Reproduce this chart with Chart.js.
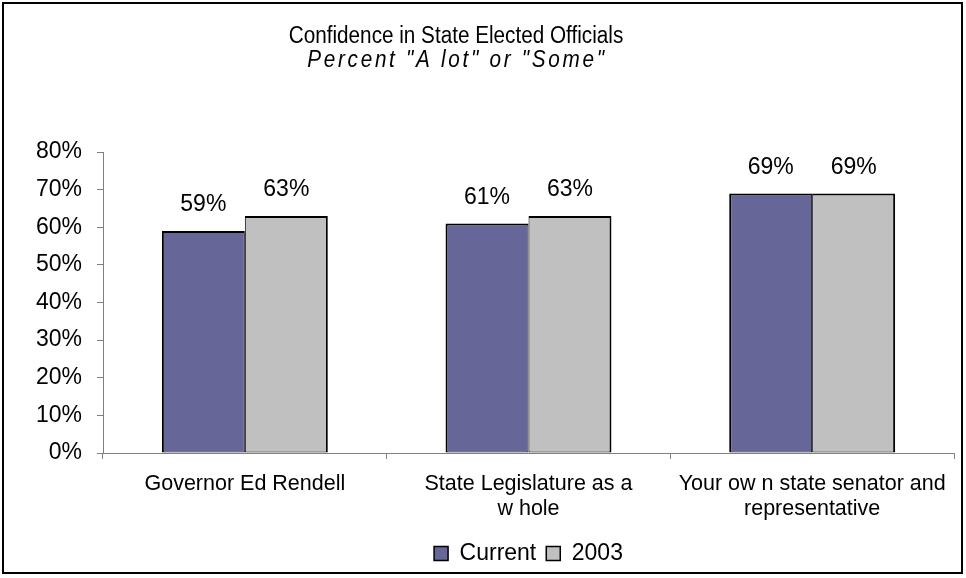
<!DOCTYPE html>
<html>
<head>
<meta charset="utf-8">
<script src="https://cdn.jsdelivr.net/npm/chart.js@4.4.1/dist/chart.umd.min.js"></script>
<style>
    html, body { margin: 0; padding: 0; background: #fff; }
    canvas { display: block; }
</style>
</head>
<body>
<canvas id="barChart" width="966" height="578"></canvas>
<script>
var fontFamily = "'Liberation Sans', Arial, sans-serif";

var titleText = "Confidence in State Elected Officials";
var subtitleText = 'Percent "A lot" or "Some"';
var categories = ["Governor Ed Rendell", ["State Legislature as a", "w hole"], ["Your ow n state senator and", "representative"]];
var seriesNames = ["Current", "2003"];
var currentValues = [59, 61, 69];
var values2003 = [63, 63, 69];
var yTickValues = [0, 10, 20, 30, 40, 50, 60, 70, 80];

var barChart;

// frame + title (title sits left of the canvas centre, like the original)
var frameTitle = {
    id: "frameTitle",
    beforeDraw: function (chart) {
        const ctx = chart.ctx;
        ctx.save();
        ctx.fillStyle = "#fff";
        ctx.fillRect(0, 0, chart.width, chart.height);
        ctx.strokeStyle = "#000";
        ctx.lineWidth = 2;
        ctx.strokeRect(3, 3, 959, 570);
        ctx.fillStyle = "#000";
        ctx.textAlign = "center";
        ctx.textBaseline = "middle";
        // original title font is a condensed face -> squeeze horizontally
        ctx.save();
        ctx.translate(456, 37);
        ctx.scale(0.9, 1);
        ctx.font = "23px " + fontFamily;
        ctx.fillText(titleText, 0, 0);
        ctx.restore();
        ctx.save();
        ctx.translate(457, 61);
        ctx.scale(0.9, 1);
        ctx.font = "italic 23px " + fontFamily;
        ctx.letterSpacing = "3px";
        ctx.fillText(subtitleText, 0, 0);
        ctx.restore();
        ctx.restore();
    },
};

// value labels above bars
var barValueLabels = {
    id: "barValueLabels",
    afterDatasetsDraw: function (chart) {
        const ctx = chart.ctx;
        ctx.save();
        ctx.font = "23px " + fontFamily;
        ctx.fillStyle = "#000";
        ctx.textAlign = "center";
        ctx.textBaseline = "middle";
        chart.data.datasets.forEach(function (ds, i) {
            chart.getDatasetMeta(i).data.forEach(function (bar, j) {
                ctx.fillText(ds.data[j] + "%", bar.x, bar.y - 26);
            });
        });
        ctx.restore();
    },
};

Chart.defaults.font.family = fontFamily;
Chart.defaults.color = "#000";

let config_bar = {
    type: "bar",
    data: {
        labels: categories,
        datasets: [
            {
                label: seriesNames[0],
                data: currentValues,
                backgroundColor: "#666699",
                borderColor: "#000",
                borderWidth: { top: 2, left: 2, right: 1, bottom: 1 },
                borderSkipped: false,
            },
            {
                label: seriesNames[1],
                data: values2003,
                backgroundColor: "#C0C0C0",
                borderColor: "#000",
                borderWidth: { top: 2, left: 1, right: 2, bottom: 1 },
                borderSkipped: false,
            },
        ],
    },
    options: {
        responsive: false,
        animation: false,
        categoryPercentage: 0.585,
        barPercentage: 1.0,
        layout: {
            padding: { top: 152, left: 13, right: 12, bottom: 3 },
        },
        scales: {
            x: {
                grid: {
                    drawOnChartArea: false,
                    offset: true,
                    tickLength: 6,
                    color: "#808080",
                },
                border: { color: "#808080" },
                ticks: {
                    font: { size: 21.5, lineHeight: 1.16 },
                    padding: 13,
                    maxRotation: 0,
                    autoSkip: false,
                },
                afterFit: function (scale) {
                    scale.height = 79;
                },
            },
            y: {
                min: 0,
                max: 80,
                grid: {
                    drawOnChartArea: false,
                    tickLength: 6,
                    color: "#808080",
                },
                border: { color: "#808080" },
                ticks: {
                    font: { size: 23 },
                    padding: 15,
                    callback: function (value) {
                        return value + "%";
                    },
                },
                afterBuildTicks: function (scale) {
                    scale.ticks = yTickValues.map(function (v) {
                        return { value: v };
                    });
                },
                afterFit: function (scale) {
                    scale.width = 90;
                },
            },
        },
        plugins: {
            tooltip: { enabled: false },
            legend: {
                position: "bottom",
                fullSize: false,
                labels: {
                    boxWidth: 14,
                    boxHeight: 14,
                    padding: 10,
                    font: { size: 23 },
                },
            },
        },
    },
    plugins: [frameTitle, barValueLabels],
};

barChart = new Chart("barChart", config_bar);
</script>
</body>
</html>
